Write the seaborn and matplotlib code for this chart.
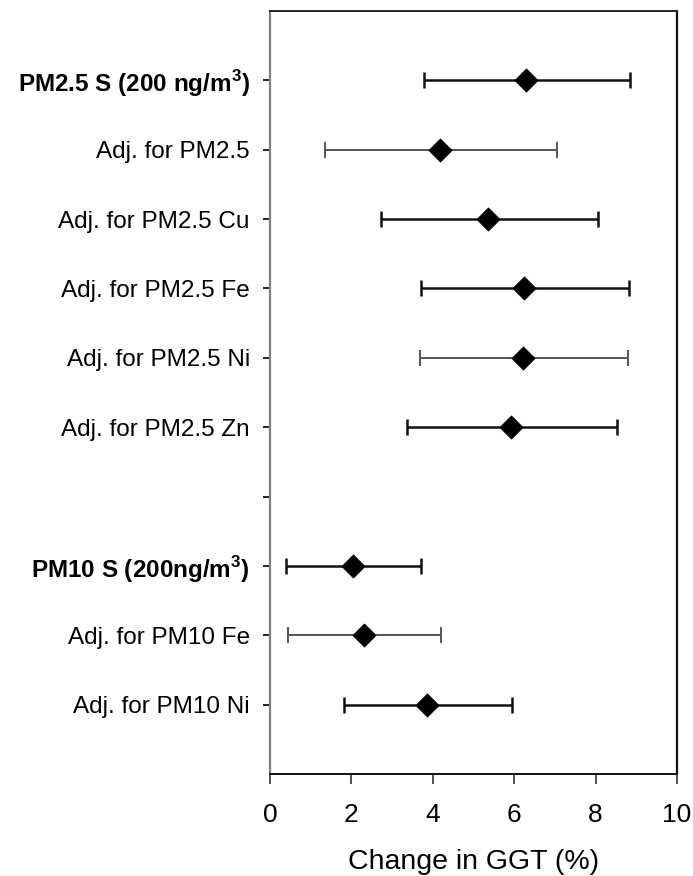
import matplotlib
matplotlib.use("Agg")
import matplotlib.pyplot as plt
import seaborn as sns
import pandas as pd
import numpy as np

labels = ["PM2.5 S (200 ng/m$^{\\mathbf{3}}$)", "Adj. for PM2.5", "Adj. for PM2.5 Cu", "Adj. for PM2.5 Fe",
          "Adj. for PM2.5 Ni", "Adj. for PM2.5 Zn", "",
          "PM10 S (200ng/m$^{\\mathbf{3}}$)", "Adj. for PM10 Fe", "Adj. for PM10 Ni"]
estimate = [6.28, 4.17, 5.36, 6.23, 6.21, 5.91, np.nan, 2.04, 2.31, 3.86]
lower = [3.78, 1.34, 2.73, 3.72, 3.69, 3.37, np.nan, 0.39, 0.43, 1.82]
upper = [8.84, 7.06, 8.05, 8.81, 8.80, 8.52, np.nan, 3.72, 4.21, 5.95]
bar_colors = ["#111111", "#555555", "#111111", "#111111", "#555555", "#111111", None,
              "#111111", "#555555", "#111111"]
bold_rows = [0, 7]
xticks = [0, 2, 4, 6, 8, 10]

sns.set_theme(style="white")
plt.rcParams["font.family"] = ["Liberation Sans", "DejaVu Sans"]
plt.rcParams["mathtext.fontset"] = "custom"
plt.rcParams["mathtext.bf"] = "Liberation Sans:bold"
plt.rcParams["mathtext.rm"] = "Liberation Sans"

df = pd.DataFrame({"label": labels, "pos": np.arange(len(labels)),
                   "est": estimate, "lo": lower, "hi": upper})

fig = plt.figure(figsize=(6.93, 8.76), dpi=100)
ax = fig.add_axes([270 / 693, 102 / 876, 407 / 693, 763 / 876])

for i, r in df.iterrows():
    if np.isnan(r["est"]):
        continue
    c = bar_colors[i]
    lw = 1.4 if c == "#555555" else 1.8
    ax.errorbar(r["est"], r["pos"], xerr=[[r["est"] - r["lo"]], [r["hi"] - r["est"]]],
                fmt="none", ecolor=c, elinewidth=lw, capsize=6, capthick=lw, zorder=2)

sns.scatterplot(data=df.dropna(), x="est", y="pos", marker="D", s=140, color="black",
                edgecolor="black", linewidth=0.5, ax=ax, zorder=3, legend=False)

ax.set_xlim(0, 10)
ax.set_ylim(10, -1)
ax.set_xticks(xticks)
ax.set_xticklabels([str(t) for t in xticks], fontsize=19)
ax.set_yticks(df["pos"])
ax.set_yticklabels(labels, fontsize=17.5)
for i, t in enumerate(ax.get_yticklabels()):
    if i in bold_rows:
        t.set_fontweight("bold")
ax.set_xlabel("Change in GGT (%)", fontsize=20.5, labelpad=16, color="black")
ax.set_ylabel("")

ax.tick_params(axis="x", direction="out", length=7, width=1.2, color="#333333", pad=14,
               labelcolor="black", bottom=True)
ax.tick_params(axis="y", direction="out", length=5, width=1.2, color="black", pad=9.5,
               labelcolor="black", left=True)

ax.spines["left"].set_color("#808080")
ax.spines["left"].set_linewidth(1.6)
ax.spines["bottom"].set_color("#111111")
ax.spines["bottom"].set_linewidth(1.4)
ax.spines["top"].set_color("#222222")
ax.spines["top"].set_linewidth(1.4)
ax.spines["right"].set_color("#111111")
ax.spines["right"].set_linewidth(1.6)

fig.savefig("out.png", dpi=100)
